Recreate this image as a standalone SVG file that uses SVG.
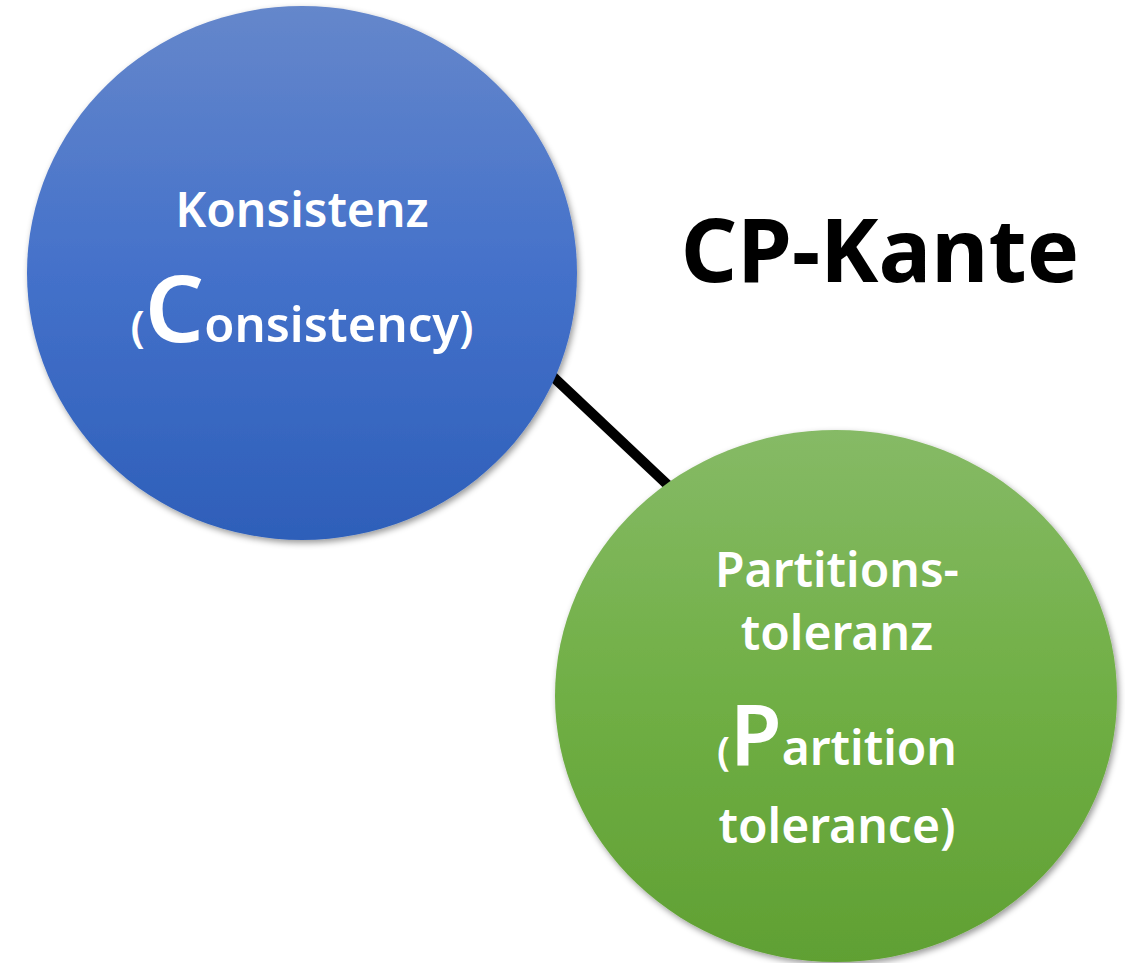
<svg xmlns="http://www.w3.org/2000/svg" width="1125" height="963" viewBox="0 0 1125 963">
  <style>
    .lbl { font-family: "Noto Sans", "Open Sans", "Liberation Sans", sans-serif; font-weight: 600; fill: #ffffff; text-anchor: middle; }
    .title { font-family: "Noto Sans", "Open Sans", "Liberation Sans", sans-serif; font-weight: 700; fill: #000000; text-anchor: middle; }
    .edge { stroke: #000000; stroke-width: 10; fill: none; }
  </style>
  <defs>
    <linearGradient id="gBlue" x1="0" y1="0" x2="0" y2="1">
      <stop offset="0" stop-color="#6587CB"/>
      <stop offset="0.5" stop-color="#4471CA"/>
      <stop offset="1" stop-color="#2E5FB9"/>
    </linearGradient>
    <linearGradient id="gGreen" x1="0" y1="0" x2="0" y2="1">
      <stop offset="0" stop-color="#86BA66"/>
      <stop offset="0.5" stop-color="#70AF45"/>
      <stop offset="1" stop-color="#60A033"/>
    </linearGradient>
    <filter id="shadow" x="-10%" y="-10%" width="120%" height="120%">
      <feDropShadow dx="2" dy="3" stdDeviation="3" flood-color="#000000" flood-opacity="0.4"/>
    </filter>
  </defs>

  <rect width="1125" height="963" fill="#ffffff"/>

  <!-- connector between the two nodes -->
  <g id="connectors">
    <line class="edge" x1="530" y1="355" x2="690" y2="506"/>
  </g>

  <!-- Consistency node -->
  <g id="node-c">
    <ellipse cx="302" cy="273" rx="275" ry="267" fill="url(#gBlue)" filter="url(#shadow)"/>
    <text class="lbl" x="302" y="227" font-size="48">Konsistenz</text>
    <text class="lbl" x="302" y="342" font-size="49"><tspan font-size="44">(</tspan><tspan font-size="93">C</tspan>onsistency<tspan font-size="44">)</tspan></text>
  </g>

  <!-- Partition tolerance node -->
  <g id="node-p">
    <ellipse cx="836" cy="696" rx="281" ry="266" fill="url(#gGreen)" filter="url(#shadow)"/>
    <text class="lbl" x="837" y="587" font-size="48">Partitions-</text>
    <text class="lbl" x="837" y="650" font-size="48">toleranz</text>
    <text class="lbl" x="837" y="765" font-size="48"><tspan font-size="40">(</tspan><tspan font-size="84">P</tspan>artition</text>
    <text class="lbl" x="837" y="843" font-size="48">tolerance)</text>
  </g>

  <!-- edge caption -->
  <g id="caption">
    <text class="title" x="880" y="282" font-size="88">CP-Kante</text>
  </g>
</svg>
